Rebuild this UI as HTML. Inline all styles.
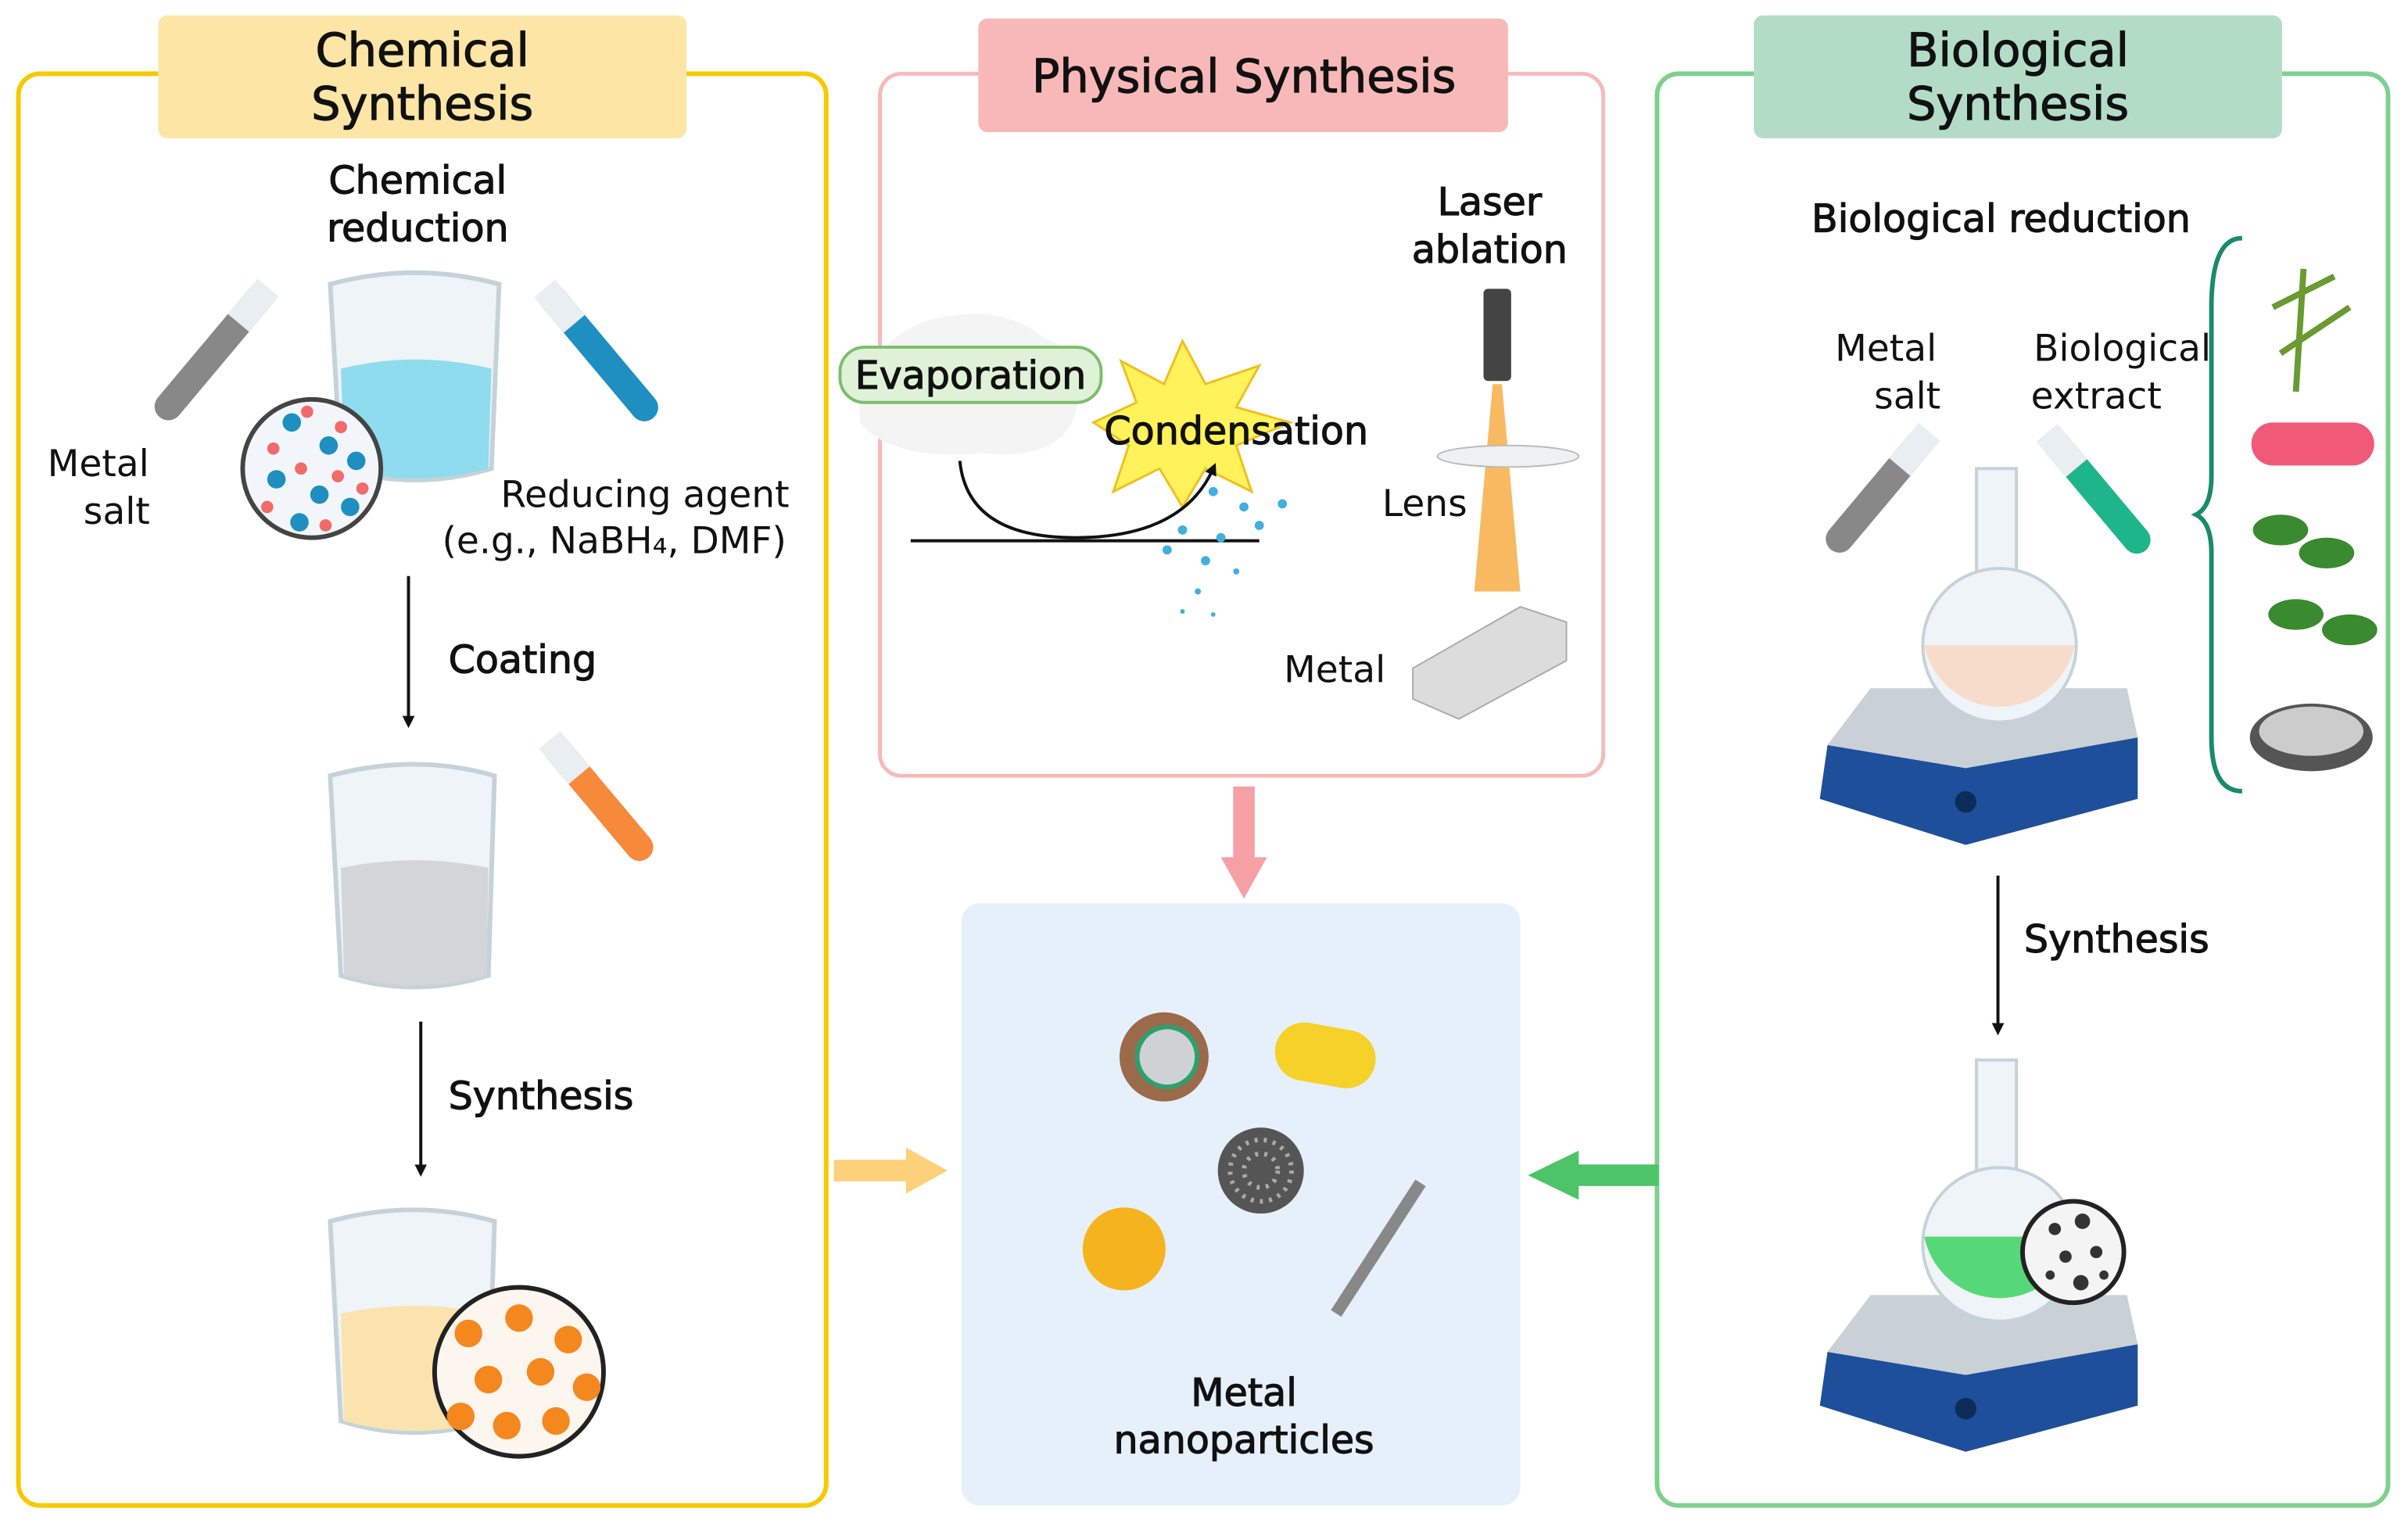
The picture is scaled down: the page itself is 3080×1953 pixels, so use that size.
<!DOCTYPE html>
<html><head><meta charset="utf-8"><style>
html,body{margin:0;padding:0;background:#fff;width:3080px;height:1953px;overflow:hidden}
svg{display:block}
text{font-family:"DejaVu Sans","Liberation Sans",sans-serif;fill:#111}
.b{stroke:#111;stroke-width:0.6}
</style></head><body>
<svg width="3080" height="1953" viewBox="0 0 1568 994" preserveAspectRatio="none" xmlns="http://www.w3.org/2000/svg">
<defs>
<marker id="ah" markerWidth="8" markerHeight="8" refX="4" refY="4" orient="auto" markerUnits="userSpaceOnUse"><path d="M0,0 L8,4 L0,8 Z" fill="#111"/></marker>
</defs>
<rect x="12" y="48" width="526" height="932" rx="14" fill="none" stroke="#f7c900" stroke-width="3"/>
<rect x="103" y="10" width="344" height="80" rx="6" fill="#fde5a5"/>
<text class="b" x="275" y="43" font-size="30" text-anchor="middle">Chemical</text>
<text class="b" x="275" y="78" font-size="30" text-anchor="middle">Synthesis</text>

<rect x="573" y="48" width="471" height="457" rx="14" fill="none" stroke="#f7b9b9" stroke-width="2.5"/>
<rect x="637" y="12" width="345" height="74" rx="6" fill="#f9b8b8"/>
<text class="b" x="810" y="60" font-size="30" text-anchor="middle">Physical Synthesis</text>

<rect x="1079" y="48" width="476" height="932" rx="14" fill="none" stroke="#7fd08f" stroke-width="3"/>
<rect x="1142" y="10" width="344" height="80" rx="6" fill="#b3dcc6"/>
<text class="b" x="1314" y="43" font-size="30" text-anchor="middle">Biological</text>
<text class="b" x="1314" y="78" font-size="30" text-anchor="middle">Synthesis</text>

<rect x="626" y="588" width="364" height="392" rx="12" fill="#e6f0fb"/>

<text class="b" x="272" y="126" font-size="25" text-anchor="middle">Chemical</text>
<text class="b" x="272" y="157" font-size="25" text-anchor="middle">reduction</text>
<g transform="rotate(40 140 230)"><rect x="130" y="175" width="18" height="110" rx="9" fill="#888"/><rect x="130" y="175" width="18" height="30" fill="#e8eef2"/></g>
<g transform="rotate(-40 390 230)"><rect x="381" y="175" width="18" height="110" rx="9" fill="#1e8fc0"/><rect x="381" y="175" width="18" height="30" fill="#e8eef2"/></g>
<path d="M215 185 Q270 170 325 185 L320 305 Q270 320 222 305 Z" fill="#eef4f7" stroke="#c5d2d9" stroke-width="3"/>
<path d="M222 240 Q270 228 320 240 L318 305 Q270 318 224 305 Z" fill="#8fdcef"/>
<circle cx="203" cy="305" r="45" fill="#f2f6fa" stroke="#444" stroke-width="3"/>
<g fill="#1e8fc0"><circle cx="190" cy="275" r="6"/><circle cx="214" cy="290" r="6"/><circle cx="180" cy="312" r="6"/><circle cx="208" cy="322" r="6"/><circle cx="232" cy="300" r="6"/><circle cx="195" cy="340" r="6"/><circle cx="228" cy="330" r="6"/></g>
<g fill="#f26b6b"><circle cx="200" cy="268" r="4"/><circle cx="178" cy="292" r="4"/><circle cx="222" cy="278" r="4"/><circle cx="196" cy="305" r="4"/><circle cx="220" cy="310" r="4"/><circle cx="174" cy="330" r="4"/><circle cx="212" cy="342" r="4"/><circle cx="236" cy="318" r="4"/></g>
<text x="64" y="310" font-size="24" fill="#333" text-anchor="middle">Metal</text>
<text x="76" y="341" font-size="24" fill="#333" text-anchor="middle">salt</text>
<text x="420" y="330" font-size="24" fill="#333" text-anchor="middle">Reducing agent</text>
<text x="400" y="360" font-size="24" fill="#333" text-anchor="middle">(e.g., NaBH₄, DMF)</text>

<line x1="266" y1="375" x2="266" y2="470" stroke="#111" stroke-width="2" marker-end="url(#ah)"/>
<text class="b" x="292" y="438" font-size="25">Coating</text>
<path d="M215 505 Q270 490 322 505 L318 635 Q270 650 222 635 Z" fill="#eef4f7" stroke="#c5d2d9" stroke-width="3"/>
<path d="M222 565 Q270 555 318 565 L317 635 Q270 648 224 635 Z" fill="#d3d5d8"/>
<g transform="rotate(-40 390 520)"><rect x="381" y="470" width="18" height="100" rx="9" fill="#f68a3a"/><rect x="381" y="470" width="18" height="30" fill="#e8eef2"/></g>

<line x1="274" y1="665" x2="274" y2="762" stroke="#111" stroke-width="2" marker-end="url(#ah)"/>
<text class="b" x="292" y="722" font-size="25">Synthesis</text>
<path d="M215 795 Q270 780 322 795 L318 925 Q270 940 222 925 Z" fill="#eef4f7" stroke="#c5d2d9" stroke-width="3"/>
<path d="M222 855 Q270 845 318 855 L317 925 Q270 938 224 925 Z" fill="#fbe3b0"/>
<circle cx="338" cy="893" r="55" fill="#fdf6ee" stroke="#222" stroke-width="3"/>
<g fill="#f5871f"><circle cx="305" cy="868" r="9"/><circle cx="338" cy="858" r="9"/><circle cx="370" cy="872" r="9"/><circle cx="318" cy="898" r="9"/><circle cx="352" cy="893" r="9"/><circle cx="382" cy="903" r="9"/><circle cx="300" cy="922" r="9"/><circle cx="330" cy="928" r="9"/><circle cx="362" cy="925" r="9"/></g>

<path d="M560 275 Q555 230 600 210 Q650 195 680 220 Q710 230 700 270 Q690 300 640 295 Q580 300 560 275 Z" fill="#f4f4f4"/>
<rect x="547" y="226" width="170" height="36" rx="16" fill="#dff2d8" stroke="#7bbf6a" stroke-width="2"/>
<text class="b" x="632" y="253" font-size="25" text-anchor="middle">Evaporation</text>
<polygon points="770,222 785,250 820,238 805,265 840,275 805,290 815,320 785,305 770,330 755,305 725,320 735,290 712,275 740,262 730,235 758,250" fill="#fff25a" stroke="#f0c020" stroke-width="1.5"/>
<text class="b" x="805" y="289" font-size="25" text-anchor="middle">Condensation</text>
<line x1="593" y1="352" x2="820" y2="352" stroke="#111" stroke-width="2"/>
<path d="M625 300 Q630 350 700 350 Q770 350 790 305" fill="none" stroke="#111" stroke-width="2" marker-end="url(#ah)"/>
<g fill="#3fb0e0"><circle cx="790" cy="320" r="3"/><circle cx="810" cy="330" r="3"/><circle cx="835" cy="328" r="3"/><circle cx="770" cy="345" r="3"/><circle cx="795" cy="350" r="3"/><circle cx="820" cy="342" r="3"/><circle cx="760" cy="358" r="3"/><circle cx="785" cy="365" r="3"/><circle cx="805" cy="372" r="2"/><circle cx="780" cy="385" r="2"/><circle cx="770" cy="398" r="1.5"/><circle cx="790" cy="400" r="1.5"/></g>
<text class="b" x="970" y="140" font-size="25" text-anchor="middle">Laser</text>
<text class="b" x="970" y="171" font-size="25" text-anchor="middle">ablation</text>
<rect x="966" y="188" width="18" height="60" rx="3" fill="#444"/>
<polygon points="972,250 978,250 990,385 960,385" fill="#f8a83a" opacity="0.8"/>
<ellipse cx="982" cy="297" rx="46" ry="7" fill="#eef0f2" stroke="#bbb"/>
<text x="900" y="336" font-size="24" fill="#333">Lens</text>
<polygon points="920,435 990,395 1020,405 1020,430 950,468 920,455" fill="#dcdcdc" stroke="#aaa"/>
<text x="836" y="444" font-size="24" fill="#333">Metal</text>

<rect x="803" y="512" width="14" height="50" fill="#f6a0a6"/>
<polygon points="795,558 825,558 810,585" fill="#f6a0a6"/>
<rect x="543" y="755" width="50" height="14" fill="#fdd07a"/>
<polygon points="590,747 590,777 617,762" fill="#fdd07a"/>
<rect x="1025" y="758" width="55" height="14" fill="#4cc467"/>
<polygon points="1028,749 1028,781 995,765" fill="#4cc467"/>

<circle cx="758" cy="688" r="29" fill="#9a6a4a"/><circle cx="760" cy="688" r="21" fill="#2da070"/><circle cx="760" cy="688" r="18" fill="#cfd2d4"/>
<rect x="830" y="668" width="66" height="38" rx="19" fill="#f5d12a" transform="rotate(10 863 687)"/>
<circle cx="821" cy="762" r="28" fill="#555"/><circle cx="821" cy="762" r="20" fill="none" stroke="#aaa" stroke-width="3" stroke-dasharray="2 4"/><circle cx="821" cy="762" r="11" fill="none" stroke="#aaa" stroke-width="3" stroke-dasharray="2 4"/>
<circle cx="732" cy="813" r="27" fill="#f5b41e"/>
<line x1="870" y1="855" x2="925" y2="770" stroke="#888" stroke-width="8"/>
<text class="b" x="810" y="915" font-size="25" text-anchor="middle">Metal</text>
<text class="b" x="810" y="946" font-size="25" text-anchor="middle">nanoparticles</text>

<text class="b" x="1303" y="151" font-size="25" text-anchor="middle">Biological reduction</text>
<text x="1228" y="235" font-size="24" fill="#333" text-anchor="middle">Metal</text>
<text x="1242" y="266" font-size="24" fill="#333" text-anchor="middle">salt</text>
<text x="1382" y="235" font-size="24" fill="#333" text-anchor="middle">Biological</text>
<text x="1365" y="266" font-size="24" fill="#333" text-anchor="middle">extract</text>
<g transform="rotate(40 1225 320)"><rect x="1215" y="270" width="18" height="100" rx="9" fill="#888"/><rect x="1215" y="270" width="18" height="30" fill="#e8eef2"/></g>
<g transform="rotate(-40 1365 320)"><rect x="1356" y="270" width="18" height="100" rx="9" fill="#1fb58a"/><rect x="1356" y="270" width="18" height="30" fill="#e8eef2"/></g>
<polygon points="1190,485 1280,500 1392,480 1392,520 1280,550 1185,520" fill="#1e4f9a"/>
<polygon points="1218,448 1385,448 1392,480 1280,500 1190,485" fill="#c9d0d6"/>
<circle cx="1280" cy="522" r="7" fill="#0d2c5a"/>
<rect x="1287" y="305" width="26" height="80" fill="#eef4f7" stroke="#c5d2d9" stroke-width="2"/>
<circle cx="1302" cy="420" r="50" fill="#eef4f7" stroke="#c5d2d9" stroke-width="2"/>
<path d="M1253 420 A50 50 0 0 0 1351 420 Z" fill="#f8dccb"/>
<path d="M1460 155 Q1440 155 1440 200 L1440 310 Q1440 330 1430 335 Q1440 340 1440 360 L1440 480 Q1440 515 1460 515" fill="none" stroke="#1a8a6a" stroke-width="3"/>
<path d="M1495 255 L1500 175 M1480 200 L1520 180 M1485 230 L1530 200" stroke="#6a9a30" stroke-width="4" fill="none"/>
<rect x="1466" y="275" width="80" height="28" rx="14" fill="#f05a78"/>
<g fill="#3a8a30"><ellipse cx="1485" cy="345" rx="18" ry="10"/><ellipse cx="1515" cy="360" rx="18" ry="10"/><ellipse cx="1495" cy="400" rx="18" ry="10"/><ellipse cx="1530" cy="410" rx="18" ry="10"/></g>
<ellipse cx="1505" cy="480" rx="40" ry="22" fill="#555"/><ellipse cx="1505" cy="476" rx="34" ry="16" fill="#ccc"/>

<line x1="1301" y1="570" x2="1301" y2="670" stroke="#111" stroke-width="2" marker-end="url(#ah)"/>
<text class="b" x="1318" y="620" font-size="25">Synthesis</text>
<polygon points="1190,880 1280,895 1392,875 1392,915 1280,945 1185,915" fill="#1e4f9a"/>
<polygon points="1218,843 1385,843 1392,875 1280,895 1190,880" fill="#c9d0d6"/>
<circle cx="1280" cy="917" r="7" fill="#0d2c5a"/>
<rect x="1287" y="690" width="26" height="80" fill="#eef4f7" stroke="#c5d2d9" stroke-width="2"/>
<circle cx="1302" cy="810" r="50" fill="#eef4f7" stroke="#c5d2d9" stroke-width="2"/>
<path d="M1253 805 A50 50 0 0 0 1351 805 Z" fill="#57d878"/>
<circle cx="1350" cy="815" r="33" fill="#f4f4f4" stroke="#222" stroke-width="3"/>
<g fill="#333"><circle cx="1338" cy="800" r="4"/><circle cx="1356" cy="795" r="5"/><circle cx="1345" cy="818" r="4"/><circle cx="1365" cy="815" r="4"/><circle cx="1335" cy="830" r="3"/><circle cx="1355" cy="835" r="5"/><circle cx="1370" cy="830" r="3"/></g>
</svg>
</body></html>
